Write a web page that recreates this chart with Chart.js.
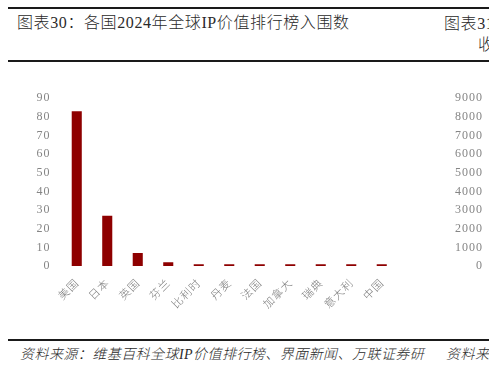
<!DOCTYPE html>
<html><head><meta charset="utf-8">
<script src="https://cdn.jsdelivr.net/npm/chart.js@4/dist/chart.umd.min.js"></script>
<style>
html,body{margin:0;padding:0;width:489px;height:369px;overflow:hidden;background:#fff;}
.abs{position:absolute;white-space:nowrap;}
.rule{position:absolute;left:8px;width:481px;height:2px;background:#1a1a1a;}
.title{font-family:"Liberation Serif","Noto Sans CJK SC";font-size:16px;font-weight:300;color:#2a2a2a;line-height:20px;letter-spacing:0.6px;}
.src{font-family:"Liberation Serif","Noto Sans CJK SC";font-size:14px;font-weight:300;font-style:italic;color:#2a2a2a;line-height:18px;letter-spacing:0.45px;}
</style></head><body>
<div class="rule" style="top:7px"></div>
<div class="rule" style="top:60px"></div>
<div class="rule" style="top:339px"></div>
<div class="abs title" style="left:17px;top:13px">图表30：各国2024年全球IP价值排行榜入围数</div>
<div class="abs title" style="left:444px;top:14px">图表31：</div>
<div class="abs title" style="left:478px;top:35px">收入</div>
<div class="abs src" style="left:20px;top:346px">资料来源：维基百科全球IP价值排行榜、界面新闻、万联证券研</div>
<div class="abs src" style="left:446px;top:346px">资料来源：</div>
<div style="position:absolute;left:0;top:80px;width:410px;height:240px"><canvas id="c1"></canvas></div>
<div style="position:absolute;left:420px;top:80px;width:100px;height:240px"><canvas id="c2"></canvas></div>
<script>
// Chart 30 data
const categories = ['美国','日本','英国','芬兰','比利时','丹麦','法国','加拿大','瑞典','意大利','中国'];
const entries = [83, 27, 7, 2, 1, 1, 1, 1, 1, 1, 1];
const yMin = 0, yMax = 90, yStep = 10;
// Chart 31 (cut off at right edge): only its axis is visible
const rightCategories = [''];
const rightValues = [null];
const rightMin = 0, rightMax = 9000, rightStep = 1000;

const tickColor = '#858585';
const plain = v => String(v);
const spacing = { id: 'spacing',
  beforeDraw(c) { c.ctx.letterSpacing = '1px'; },
  afterDraw(c) { c.ctx.letterSpacing = '0px'; } };
new Chart(document.getElementById('c1'), {
  type: 'bar',
  data: { labels: categories, datasets: [{ data: entries, backgroundColor: '#8e0000', barPercentage: 0.66, categoryPercentage: 0.5 }] },
  plugins: [spacing],
  options: {
    responsive: true, maintainAspectRatio: false, animation: false,
    layout: { padding: { top: 10, right: 13, left: 0, bottom: 0 } },
    plugins: { legend: { display: false }, tooltip: { enabled: false } },
    scales: {
      x: { grid: { display: false, drawTicks: false }, border: { display: false },
           ticks: { autoSkip: false, maxRotation: 45, minRotation: 45, padding: 10, color: '#7a7a7a',
                    font: { family: '"Noto Sans CJK SC"', size: 11, weight: 300 } },
           afterFit(s) { s.height = 54; } },
      y: { min: yMin, max: yMax, grid: { display: false, drawTicks: false }, border: { display: false },
           ticks: { stepSize: yStep, padding: 11, color: tickColor, callback: plain,
                    font: { family: '"Liberation Serif"', size: 12 } },
           afterFit(s) { s.width = 61.5; } }
    }
  }
});
new Chart(document.getElementById('c2'), {
  type: 'bar',
  data: { labels: rightCategories, datasets: [{ data: rightValues, backgroundColor: '#8e0000' }] },
  plugins: [spacing],
  options: {
    responsive: true, maintainAspectRatio: false, animation: false,
    layout: { padding: { top: 10, right: 0, left: 0, bottom: 0 } },
    plugins: { legend: { display: false }, tooltip: { enabled: false } },
    scales: {
      x: { grid: { display: false, drawTicks: false }, border: { display: false }, ticks: { display: false },
           afterFit(s) { s.height = 54; } },
      y: { min: rightMin, max: rightMax, grid: { display: false, drawTicks: false }, border: { display: false },
           ticks: { stepSize: rightStep, padding: 11, color: tickColor, callback: plain,
                    font: { family: '"Liberation Serif"', size: 12 } },
           afterFit(s) { s.width = 74; } }
    }
  }
});
</script>
</body></html>
